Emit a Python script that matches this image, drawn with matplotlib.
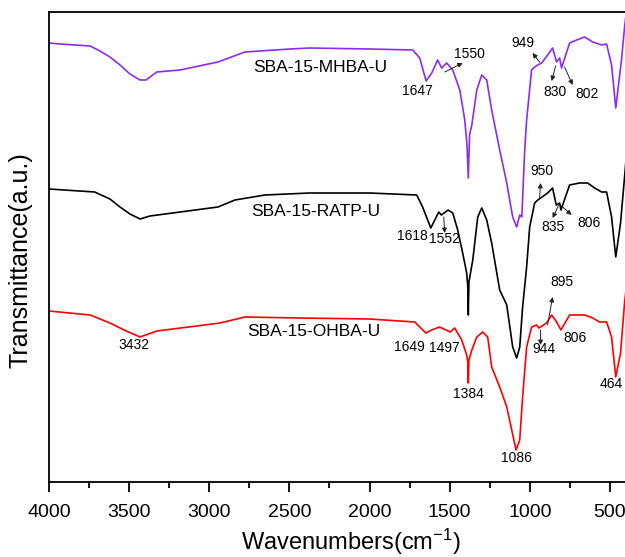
import numpy as np
import matplotlib
matplotlib.use('Agg')
import matplotlib.pyplot as plt

plt.rcParams['font.family'] = ['Liberation Sans', 'DejaVu Sans']
plt.rcParams['mathtext.fontset'] = 'custom'
plt.rcParams['mathtext.rm'] = 'Liberation Sans'
plt.rcParams['mathtext.it'] = 'Liberation Sans'

# 光谱数据 (波数, 透过率 a.u.)
mhba_wn = [4000, 3931, 3744, 3682, 3620, 3557, 3495, 3432, 3395, 3327, 3183, 2946, 2778, 2497,
           2373, 2000, 1731, 1687, 1647, 1612, 1575, 1550, 1519, 1481, 1437, 1406, 1392, 1384,
           1376, 1362, 1331, 1300, 1269, 1238, 1188, 1144, 1107, 1082, 1063, 1050, 1032, 1020,
           989, 970, 951, 926, 889, 858, 833, 814, 802, 752, 708, 658, 608, 552, 521, 490, 464,
           428, 409, 400]
mhba_t = [439, 438, 436, 431, 425, 417, 408, 402, 402, 410, 412, 420, 430, 433,
          434, 433, 432, 424, 401, 409, 422, 414, 419, 412, 392, 362, 337, 304,
          347, 357, 392, 407, 402, 372, 332, 299, 265, 255, 267, 265, 332, 362,
          412, 415, 417, 419, 427, 434, 420, 424, 414, 439, 442, 445, 440, 437, 438, 417, 374,
          422, 455, 467]

ratp_wn = [4000, 3715, 3620, 3557, 3495, 3432, 3370, 2946, 2840, 2653, 2373, 2000, 1706, 1669,
           1618, 1568, 1552, 1510, 1481, 1450, 1419, 1394, 1387, 1384, 1380, 1356, 1325, 1300,
           1269, 1238, 1188, 1144, 1107, 1082, 1063, 1045, 1020, 1001, 970, 950, 889, 858, 835,
           814, 806, 752, 690, 639, 596, 552, 521, 490, 464, 434, 409, 400]
ratp_t = [293, 290, 283, 275, 268, 263, 266, 275, 282, 287, 289, 289, 287, 275,
          254, 270, 267, 272, 269, 252, 229, 209, 195, 167, 200, 222, 265, 274,
          262, 239, 192, 177, 135, 124, 135, 175, 215, 255, 279, 282, 289, 294, 277,
          279, 272, 297, 299, 299, 294, 290, 290, 265, 225, 259, 305, 322]

ohba_wn = [4000, 3744, 3620, 3532, 3432, 3327, 2933, 2778, 2435, 2000, 1718, 1649, 1613, 1563,
           1497, 1469, 1425, 1394, 1387, 1384, 1380, 1362, 1331, 1294, 1263, 1238, 1188, 1144,
           1113, 1086, 1063, 1045, 1020, 989, 958, 944, 896, 864, 833, 806, 752, 658, 608, 565,
           521, 490, 464, 434, 409, 400]
ohba_t = [171, 167, 159, 152, 145, 151, 159, 165, 164, 163, 160, 149, 152, 155,
          150, 154, 142, 127, 120, 99, 122, 132, 145, 150, 145, 115, 95, 75,
          52, 32, 42, 85, 135, 155, 157, 154, 159, 167, 160, 152, 167, 167, 164, 160,
          160, 145, 105, 129, 179, 192]

series_names = ['SBA-15-MHBA-U', 'SBA-15-RATP-U', 'SBA-15-OHBA-U']
series_colors = ['#8B2CF5', 'black', '#FF0000']

# 峰位标注: (文字, 文字位置, 箭头起点, 箭头终点)
peak_labels = [
    ('3432', (3470, 137), None, None),
    ('1647', (1700, 391), None, None),
    ('1550', (1375, 428), (1531, 410), (1419, 419)),
    ('949', (1045, 439), (939, 420), (983, 429)),
    ('830', (845, 390), (839, 416), (864, 401)),
    ('802', (646, 388), (783, 415), (733, 397)),
    ('1618', (1731, 246), None, None),
    ('1552', (1531, 243), (1537, 265), (1531, 249)),
    ('950', (926, 311), (939, 284), (933, 299)),
    ('835', (858, 255), (820, 277), (858, 264)),
    ('806', (633, 259), (802, 276), (739, 267)),
    ('1649', (1749, 135), None, None),
    ('1497', (1531, 134), None, None),
    ('1384', (1382, 88), None, None),
    ('1086', (1082, 24), None, None),
    ('944', (914, 133), (933, 152), (933, 137)),
    ('895', (802, 200), (889, 157), (858, 185)),
    ('806', (721, 144), None, None),
    ('464', (490, 98), None, None),
]
name_pos = [(2310, 415), (2335, 270), (2348, 150)]

fig = plt.figure(figsize=(6.25, 5.57), dpi=100)
ax = fig.add_axes([49/625, 1 - 482/557, 577/625, 470/557])

for wn, t, c in zip([mhba_wn, ratp_wn, ohba_wn], [mhba_t, ratp_t, ohba_t], series_colors):
    ax.plot(wn, t, color=c, lw=1.2)

for name, (px, py) in zip(series_names, name_pos):
    ax.text(px, py, name, fontsize=12.5, ha='center', va='center')

for txt, pos, a0, a1 in peak_labels:
    ax.text(pos[0], pos[1], txt, fontsize=10, ha='center', va='center')
    if a0 is not None:
        ax.annotate('', xy=a1, xytext=a0,
                    arrowprops=dict(arrowstyle='-|>', color='#222222', lw=0.7,
                                    mutation_scale=7, shrinkA=0, shrinkB=0))

ax.set_xlim(4000, 400)
ax.set_ylim(0, 470)
ax.set_xticks([4000, 3500, 3000, 2500, 2000, 1500, 1000, 500])
ax.set_xticks(np.arange(3750, 400, -500), minor=True)
ax.set_yticks([])
ax.tick_params(axis='x', which='major', direction='out', length=7, width=1.3, labelsize=14, pad=9)
ax.tick_params(axis='x', which='minor', direction='out', length=4.5, width=1.3)
for s in ['left', 'bottom', 'top']:
    ax.spines[s].set_linewidth(1.3)
ax.spines['right'].set_visible(False)

fig.text(351/625, 1 - 542/557, r'Wavenumbers(cm$^{-1}$)', fontsize=17, ha='center', va='center')
fig.text(21/625, 1 - 260/557, 'Transmittance(a.u.)', fontsize=18, rotation=90, ha='center', va='center')

fig.savefig('out.png', dpi=100)
